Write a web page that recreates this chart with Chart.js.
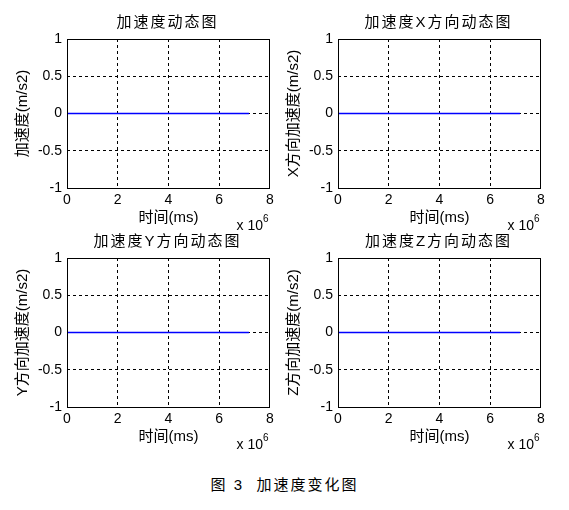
<!DOCTYPE html>
<html>
<head>
<meta charset="utf-8">
<script src="https://cdn.jsdelivr.net/npm/chart.js@4/dist/chart.umd.min.js"></script>
<style>
  html, body { margin: 0; padding: 0; background: #fff; }
  body { width: 569px; height: 510px; position: relative; overflow: hidden; }
  canvas { position: absolute; }
  #caption { position: absolute; left: 0; width: 569px; top: 473px; text-align: center;
    font: 15px "Liberation Sans", "Noto Sans CJK SC", sans-serif; letter-spacing: 2px; color: #000; }
</style>
</head>
<body>
<canvas id="c0" width="285" height="235" style="left:0px;top:0px"></canvas>
<canvas id="c1" width="285" height="235" style="left:271px;top:0px"></canvas>
<canvas id="c2" width="285" height="235" style="left:0px;top:219px"></canvas>
<canvas id="c3" width="285" height="235" style="left:271px;top:219px"></canvas>
<div id="caption">图 3&nbsp;&nbsp;加速度变化图</div>
<script>
// ---- data ----
const timeMs = [0, 7170000];
const accTotal = [0, 0];
const accX = [0, 0];
const accY = [0, 0];
const accZ = [0, 0];

const xTickValues = [0, 2000000, 4000000, 6000000, 8000000];
const xTickLabels = ['0', '2', '4', '6', '8'];
const yTickValues = [-1, -0.5, 0, 0.5, 1];
const yTickLabels = ['-1', '-0.5', '0', '0.5', '1'];

const panelTitles = ['加速度动态图', '加速度X方向动态图', '加速度Y方向动态图', '加速度Z方向动态图'];
const yAxisTitles = ['加速度(m/s2)', 'X方向加速度(m/s2)', 'Y方向加速度(m/s2)', 'Z方向加速度(m/s2)'];
const xAxisTitle = '时间(ms)';
const xScaleBase = 'x 10';
const xScaleExp = '6';

const seriesList = [accTotal, accX, accY, accZ];

const FONT = '"Liberation Sans", "Noto Sans CJK SC", sans-serif';

const panelPlugin = {
  id: 'panelDecor',
  afterDraw(chart, args, opts) {
    const ctx = chart.ctx;
    const a = chart.chartArea;
    ctx.save();
    // frame box
    ctx.strokeStyle = '#000';
    ctx.lineWidth = 1;
    ctx.setLineDash([]);
    ctx.strokeRect(Math.round(a.left) + 0.5, Math.round(a.top) + 0.5,
                   Math.round(a.right - a.left) - 1, Math.round(a.bottom - a.top));
    // title
    ctx.fillStyle = '#000';
    ctx.font = '15px ' + FONT;
    try { ctx.letterSpacing = '2px'; } catch (e) {}
    ctx.textAlign = 'center';
    ctx.textBaseline = 'middle';
    ctx.fillText(opts.title, (a.left + a.right) / 2 - 1, 22.5);
    try { ctx.letterSpacing = '0px'; } catch (e) {}
    // exponent label
    ctx.textAlign = 'right';
    ctx.textBaseline = 'alphabetic';
    ctx.font = '14px ' + FONT;
    ctx.fillText(xScaleBase, a.right - 7, a.bottom + 42);
    ctx.textAlign = 'left';
    ctx.font = '10px ' + FONT;
    ctx.fillText(xScaleExp, a.right - 7, a.bottom + 34);
    ctx.restore();
  }
};

function makeChart(idx) {
  const vals = seriesList[idx];
  const points = timeMs.map((t, i) => ({ x: t, y: vals[i] }));
  const gridColor = (c) => {
    const n = c.scale && c.scale.ticks ? c.scale.ticks.length : 0;
    return (c.index === 0 || c.index === n - 1) ? 'rgba(0,0,0,0)' : '#000';
  };
  return new Chart(document.getElementById('c' + idx), {
    type: 'line',
    data: {
      datasets: [{
        data: points,
        borderColor: '#0000ff',
        borderWidth: 1.5,
        pointRadius: 0,
        fill: false,
        tension: 0
      }]
    },
    options: {
      responsive: false,
      animation: false,
      devicePixelRatio: 1,
      layout: { padding: { top: 39, right: 15, bottom: 0, left: 0 } },
      plugins: {
        legend: { display: false },
        tooltip: { enabled: false },
        title: { display: false },
        panelDecor: { title: panelTitles[idx] }
      },
      scales: {
        x: {
          type: 'linear',
          min: 0,
          max: 8000000,
          afterBuildTicks: (s) => { s.ticks = xTickValues.map(v => ({ value: v })); },
          afterFit: (s) => { s.height = 47; },
          ticks: {
            callback: (v, i) => xTickLabels[i],
            autoSkip: false,
            maxRotation: 0,
            padding: 4,
            color: '#000',
            font: { family: FONT, size: 14 }
          },
          grid: { color: gridColor, lineWidth: 1, drawTicks: false },
          border: { display: false, dash: [3, 3] },
          title: {
            display: true,
            text: xAxisTitle,
            color: '#000',
            font: { family: FONT, size: 15 },
            padding: { top: 0, bottom: 8 }
          }
        },
        y: {
          type: 'linear',
          min: -1,
          max: 1,
          afterBuildTicks: (s) => { s.ticks = yTickValues.map(v => ({ value: v })); },
          afterFit: (s) => { s.width = 67; },
          ticks: {
            callback: (v, i) => yTickLabels[i],
            autoSkip: false,
            padding: 5,
            color: '#000',
            font: { family: FONT, size: 14 }
          },
          grid: { color: gridColor, lineWidth: 1, drawTicks: false },
          border: { display: false, dash: [3, 3] },
          title: {
            display: true,
            text: yAxisTitles[idx],
            color: '#000',
            font: { family: FONT, size: 15 },
            padding: { top: 14, bottom: 0 }
          }
        }
      }
    },
    plugins: [panelPlugin]
  });
}

for (let i = 0; i < 4; i++) makeChart(i);
</script>
</body>
</html>
